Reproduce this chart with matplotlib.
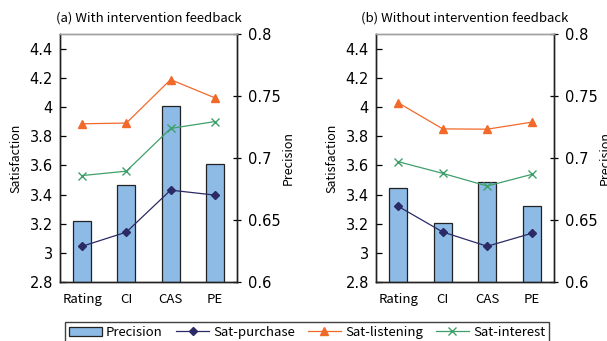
import numpy as np
import matplotlib.pyplot as plt
from matplotlib.ticker import FuncFormatter, FixedLocator, NullLocator

plt.rcParams['font.family'] = ['Noto Sans CJK JP', 'DejaVu Sans']

# 推荐方法与评价指标
methods = ['Rating', 'CI', 'CAS', 'PE']
panel_titles = ['(a) With intervention feedback', '(b) Without intervention feedback']

# (a) 有干预反馈
prec_a = [0.649, 0.678, 0.742, 0.695]
purchase_a = [3.045, 3.142, 3.43, 3.396]
listening_a = [3.885, 3.89, 4.188, 4.063]
interest_a = [3.53, 3.56, 3.853, 3.90]

# (b) 无干预反馈
prec_b = [0.676, 0.648, 0.681, 0.661]
purchase_b = [3.319, 3.143, 3.045, 3.134]
listening_b = [4.029, 3.85, 3.848, 3.896]
interest_b = [3.625, 3.545, 3.458, 3.538]

sat_ticks = [2.8, 3.0, 3.2, 3.4, 3.6, 3.8, 4.0, 4.2, 4.4]
prec_ticks = [0.6, 0.65, 0.7, 0.75, 0.8]

bar_color = '#8dbbe6'
c_purchase = '#2b2a66'
c_listening = '#f26a2a'
c_interest = '#3f9f6b'
num_font = ['DejaVu Sans']


def fmt(v, pos):
    return '{:g}'.format(round(v, 3))


fig = plt.figure(figsize=(6.07, 3.41), dpi=100)
positions = [[0.0988, 0.173, 0.2916, 0.727], [0.6194, 0.173, 0.2932, 0.727]]
data = [(prec_a, purchase_a, listening_a, interest_a),
        (prec_b, purchase_b, listening_b, interest_b)]

handles = None
for k in range(2):
    prec, purchase, listening, interest = data[k]
    ax = fig.add_axes(positions[k])
    ax2 = ax.twinx()
    x = np.arange(len(methods))

    # 柱状图用右轴（Precision）
    bars = ax2.bar(x, prec, width=0.41, color=bar_color, edgecolor='#222222', linewidth=0.9)
    ax2.set_ylim(0.6, 0.8)
    ax2.yaxis.set_major_locator(FixedLocator(prec_ticks))
    ax2.yaxis.set_major_formatter(FuncFormatter(fmt))
    ax2.tick_params(axis='y', direction='inout', length=6, width=0.9, labelsize=10.5, pad=5)
    ax2.set_ylabel('Precision', fontsize=9, labelpad=1)

    # 折线图用左轴（Satisfaction）
    l1, = ax.plot(x, purchase, color=c_purchase, lw=0.9, marker='D', ms=4.2, mec=c_purchase, mfc=c_purchase)
    l2, = ax.plot(x, listening, color=c_listening, lw=0.9, marker='^', ms=6, mec=c_listening, mfc=c_listening)
    l3, = ax.plot(x, interest, color=c_interest, lw=0.9, marker='x', ms=6, mew=1.0)
    ax.set_zorder(ax2.get_zorder() + 1)
    ax.patch.set_visible(False)

    ax.set_ylim(2.8, 4.5)
    ax.yaxis.set_major_locator(FixedLocator(sat_ticks))
    ax.yaxis.set_major_formatter(FuncFormatter(fmt))
    ax.tick_params(axis='y', direction='in', length=4, width=0.9, labelsize=10.5, pad=5)
    ax.set_ylabel('Satisfaction', fontsize=9, labelpad=5)

    ax.set_xlim(-0.5, 3.5)
    ax.set_xticks(x)
    ax.set_xticklabels(methods, fontsize=9.5)
    ax.tick_params(axis='x', length=0, pad=8)
    ax.xaxis.set_minor_locator(FixedLocator([0.5, 1.5, 2.5]))
    ax.tick_params(axis='x', which='minor', direction='in', length=5, width=0.9)
    ax2.xaxis.set_minor_locator(NullLocator())

    for lab in ax.get_yticklabels() + ax2.get_yticklabels():
        lab.set_fontfamily(num_font)

    for a in (ax, ax2):
        for side in ('left', 'right', 'bottom'):
            a.spines[side].set_color('#222222')
            a.spines[side].set_linewidth(1.0)
        a.spines['top'].set_color('#a0a0a0')
        a.spines['top'].set_linewidth(1.0)

    ax.set_title(panel_titles[k], fontsize=9.5, pad=9)
    handles = [bars, l1, l2, l3]

leg = fig.legend(handles, ['Precision', 'Sat-purchase', 'Sat-listening', 'Sat-interest'],
                 loc='center', bbox_to_anchor=(0.506, 0.025), ncol=4, fontsize=9.5,
                 frameon=True, fancybox=False, edgecolor='#111111', handlelength=2.5,
                 handletextpad=0.3, columnspacing=1.0, borderpad=0.3)
leg.get_frame().set_linewidth(1.0)

fig.savefig('out.png', dpi=100)
